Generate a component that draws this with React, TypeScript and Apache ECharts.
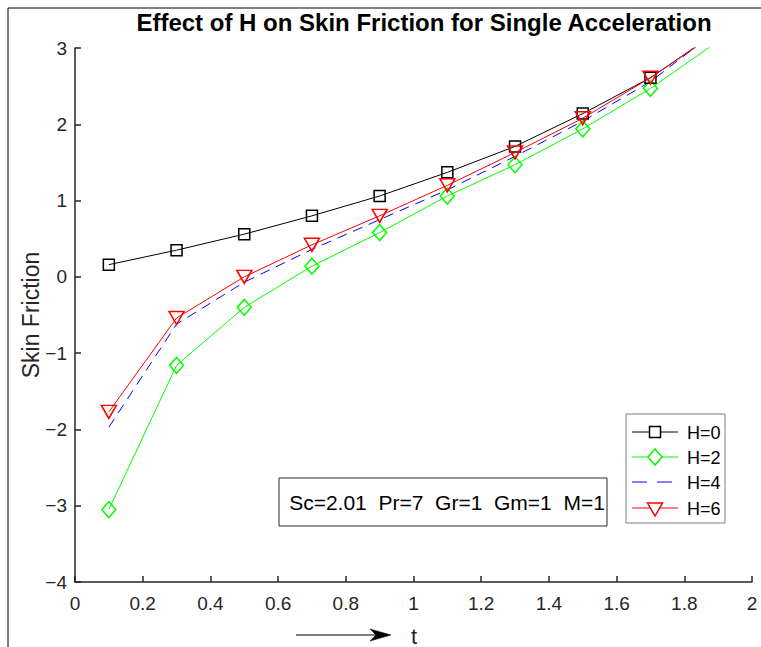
import React, { useEffect, useRef } from "react";
import * as echarts from "echarts";

const tValues = [0.1, 0.3, 0.5, 0.7, 0.9, 1.1, 1.3, 1.5, 1.7, 1.9];
const h0 = [0.16, 0.35, 0.56, 0.8, 1.06, 1.37, 1.71, 2.14, 2.61, 3.22];
const h2 = [-3.05, -1.16, -0.4, 0.14, 0.58, 1.06, 1.47, 1.94, 2.47, 3.09];
const h4 = [-1.97, -0.62, -0.07, 0.36, 0.75, 1.14, 1.58, 2.04, 2.56, 3.24];
const h6 = [-1.77, -0.54, 0.0, 0.42, 0.8, 1.2, 1.63, 2.08, 2.61, 3.21];
const seriesNames = ["H=0", "H=2", "H=4", "H=6"];
const titleText = "Effect of H on Skin Friction for Single Acceleration";
const paramText = "Sc=2.01  Pr=7  Gr=1  Gm=1  M=1";

const FONT = '"Liberation Sans", Arial, sans-serif';
const pairs = (ys: number[]) => tValues.map((t, i) => [t, ys[i]]);

export default function App() {
  const ref = useRef<HTMLDivElement>(null);
  useEffect(() => {
    if (!ref.current) return;
    const chart = echarts.init(ref.current, undefined, { renderer: "svg" });
    const legendY = [432, 457, 482, 508];
    const legendColors = ["#000000", "#00ff00", "#0000ff", "#ff0000"];
    const mx = 655;
    const legendGraphics: any[] = [
      {
        type: "rect",
        shape: { x: 626, y: 414, width: 99, height: 109 },
        style: { fill: "#fff", stroke: "#7f7f7f", lineWidth: 1 },
        z: 100,
      },
    ];
    legendY.forEach((y, i) => {
      legendGraphics.push({
        type: "line",
        shape: { x1: 632, y1: y, x2: 678, y2: y },
        style: {
          stroke: legendColors[i],
          lineWidth: 1,
          lineDash: i === 2 ? [15, 10] : null,
        },
        z: 101,
      });
      legendGraphics.push({
        type: "text",
        style: {
          x: 687,
          y: y + 1,
          text: seriesNames[i],
          font: `18px ${FONT}`,
          fill: "#000",
          verticalAlign: "middle",
        },
        z: 101,
      });
    });
    legendGraphics.push({
      type: "rect",
      shape: { x: mx - 5.5, y: legendY[0] - 5.5, width: 11, height: 11 },
      style: { fill: "#fff", stroke: "#000", lineWidth: 1.5 },
      z: 102,
    });
    legendGraphics.push({
      type: "polygon",
      shape: {
        points: [
          [mx, legendY[1] - 8],
          [mx + 7, legendY[1]],
          [mx, legendY[1] + 8],
          [mx - 7, legendY[1]],
        ],
      },
      style: { fill: "#fff", stroke: "#00ff00", lineWidth: 1.5 },
      z: 102,
    });
    legendGraphics.push({
      type: "polygon",
      shape: {
        points: [
          [mx - 7.5, legendY[3] - 5],
          [mx + 7.5, legendY[3] - 5],
          [mx, legendY[3] + 8],
        ],
      },
      style: { fill: "#fff", stroke: "#ff0000", lineWidth: 1.5 },
      z: 102,
    });

    const mk = (
      name: string,
      ys: number[],
      color: string,
      symbol: string,
      size: any,
      extra: any = {}
    ) => ({
      name,
      type: "line",
      data: pairs(ys),
      symbol,
      symbolSize: size,
      showSymbol: symbol !== "none",
      clip: true,
      lineStyle: { color, width: 1, type: extra.dash || "solid" },
      itemStyle: { color: "rgba(255,255,255,0)", borderColor: color, borderWidth: 1.5 },
      symbolRotate: extra.rotate || 0,
      emphasis: { disabled: true },
      z: extra.z || 2,
    });

    const axisCommon = {
      axisLine: { show: true, onZero: false, lineStyle: { color: "#262626", width: 1.5 } },
      axisTick: { show: true, inside: true, length: 6, lineStyle: { color: "#262626", width: 1.5 } },
      splitLine: { show: false },
    };

    chart.setOption({
      animation: false,
      backgroundColor: "#ffffff",
      textStyle: { fontFamily: FONT },
      grid: { left: 75, right: 9, top: 48, bottom: 65, containLabel: false },
      xAxis: {
        type: "value",
        min: 0,
        max: 2,
        interval: 0.2,
        ...axisCommon,
        axisLabel: { color: "#262626", fontSize: 19, fontFamily: FONT, margin: 12 },
      },
      yAxis: {
        type: "value",
        min: -4,
        max: 3,
        interval: 1,
        name: "Skin Friction",
        nameLocation: "middle",
        nameGap: 33,
        nameMoveOverlap: false,
        nameTextStyle: { color: "#262626", fontSize: 23, fontFamily: FONT },
        ...axisCommon,
        axisLabel: {
          color: "#262626",
          fontSize: 19,
          fontFamily: FONT,
          margin: 8,
          formatter: (v: number) => String(v).replace("-", "\u2212"),
        },
      },
      series: [
        mk(seriesNames[0], h0, "#000000", "rect", 11, { z: 4 }),
        mk(seriesNames[1], h2, "#00ff00", "diamond", [14, 16], { z: 3 }),
        mk(seriesNames[2], h4, "#0000ff", "none", 0, { dash: [10, 7], z: 2 }),
        mk(seriesNames[3], h6, "#ff0000", "triangle", [15, 13], { rotate: 180, z: 5 }),
      ],
      graphic: [
        {
          type: "line",
          shape: { x1: 8, y1: 8, x2: 761, y2: 8 },
          style: { stroke: "#000", lineWidth: 1 },
        },
        {
          type: "line",
          shape: { x1: 8, y1: 8, x2: 8, y2: 647 },
          style: { stroke: "#000", lineWidth: 1 },
        },
        {
          type: "text",
          style: {
            x: 424,
            y: 22,
            text: titleText,
            font: `bold 24px ${FONT}`,
            fill: "#000",
            align: "center",
            verticalAlign: "middle",
          },
        },
        {
          type: "rect",
          shape: { x: 279, y: 478, width: 328, height: 48 },
          style: { fill: "#fff", stroke: "#262626", lineWidth: 1 },
          z: 100,
        },
        {
          type: "text",
          style: {
            x: 447,
            y: 502,
            text: paramText,
            font: `21px ${FONT}`,
            fill: "#000",
            align: "center",
            verticalAlign: "middle",
          },
          z: 101,
        },
        {
          type: "line",
          shape: { x1: 296, y1: 635, x2: 378, y2: 635 },
          style: { stroke: "#000", lineWidth: 1 },
        },
        {
          type: "polygon",
          shape: {
            points: [
              [370, 629],
              [391, 635],
              [370, 641],
              [376, 635],
            ],
          },
          style: { fill: "#000", stroke: "#000", lineWidth: 0.5 },
        },
        {
          type: "text",
          style: {
            x: 414,
            y: 636,
            text: "t",
            font: `22px ${FONT}`,
            fill: "#262626",
            align: "center",
            verticalAlign: "middle",
          },
        },
        ...legendGraphics,
      ],
    });
    return () => chart.dispose();
  }, []);
  return (
    <div
      ref={ref}
      style={{ position: "fixed", left: 0, top: 0, width: 761, height: 647 }}
    />
  );
}
